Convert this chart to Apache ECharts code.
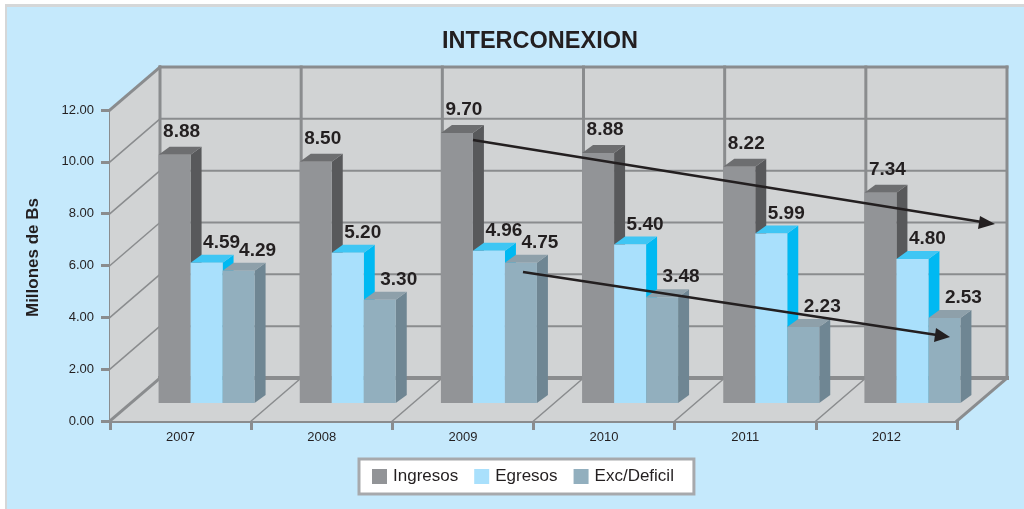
<!DOCTYPE html>
<html>
<head>
<meta charset="utf-8">
<title>Interconexion</title>
<style>
  html, body { margin: 0; padding: 0; background: #fff; }
  #panel {
    position: absolute; left: 5px; top: 4px; width: 1017px; height: 502px;
    background: #c5e9fc; border-left: 2px solid #d5d7d8; border-top: 3px solid #d5d7d8;
  }
  #chart { position: absolute; left: 0; top: 0; width: 1024px; height: 509px; }
</style>
<script src="https://cdn.jsdelivr.net/npm/echarts@6/dist/echarts.min.js"></script>
</head>
<body>
<div id="panel"></div>
<div id="chart"></div>
<script>
const years = ['2007', '2008', '2009', '2010', '2011', '2012']
const yTicks = [0, 2, 4, 6, 8, 10, 12]

// heights read against the axis, they do not follow the printed labels
const ingresos = [9.58, 9.31, 10.42, 9.65, 9.12, 8.11]
const egresos = [5.41, 5.80, 5.87, 6.12, 6.54, 5.56]
const excDeficit = [5.10, 3.98, 5.41, 4.08, 2.93, 3.28]

// numbers printed above the bars
const ingresosLabels = ['8.88', '8.50', '9.70', '8.88', '8.22', '7.34']
const egresosLabels = ['4.59', '5.20', '4.96', '5.40', '5.99', '4.80']
const excDeficitLabels = ['4.29', '3.30', '4.75', '3.48', '2.23', '2.53']

const FONT = '"Liberation Sans", Arial, sans-serif'
const INK = '#231f20'
const LINE = '#8a8c8e'

// depth of the fake 3d box and of the bars
const WALL_DX = 50
const WALL_DY = -43
const BAR_SHIFT_X = 26
const BAR_SHIFT_Y = -18
const BAR_WIDTH = 32
const BAR_DX = 11
const BAR_DY = -8

function poly(points, fill) {
  return { type: 'polygon', shape: { points: points }, style: { fill: fill } }
}

function seg(a, b, width) {
  return {
    type: 'line',
    shape: { x1: a[0], y1: a[1], x2: b[0], y2: b[1] },
    style: { stroke: LINE, lineWidth: width, lineCap: 'square' }
  }
}

function back(p) {
  return [p[0] + WALL_DX, p[1] + WALL_DY]
}

// side wall, back wall, floor and their grid
function renderBox(params, api) {
  const bandW = api.size([1, 0])[0]
  const left = api.coord([0, 0])[0] - bandW / 2
  const bl = [left, api.coord([0, 0])[1]]
  const tl = [left, api.coord([0, 12])[1]]
  const br = [left + bandW * years.length, bl[1]]
  const tr = [br[0], tl[1]]
  const wall = '#d1d3d4'
  const children = [
    poly([bl, tl, back(tl), back(bl)], wall),
    poly([back(bl), back(tl), back(tr), back(br)], wall),
    poly([bl, br, back(br), back(bl)], wall)
  ]
  yTicks.forEach(function (v) {
    if (v === 0 || v === 12) return
    const p = [left, api.coord([0, v])[1]]
    children.push(seg(p, back(p), 1.5))
    children.push(seg(back(p), back([br[0], p[1]]), 2))
  })
  for (let i = 1; i < years.length; i++) {
    const p = [left + bandW * i, bl[1]]
    children.push(seg(p, back(p), 1.5))
    children.push(seg(back(p), back([p[0], tl[1]]), 3))
  }
  children.push(seg(back(bl), back(br), 4))
  children.push(seg(back(bl), back(tl), 3))
  children.push(seg(back(tl), back(tr), 3))
  children.push(seg(back(tr), back(br), 3))
  children.push(seg(bl, back(bl), 3))
  children.push(seg(tl, back(tl), 3))
  children.push(seg(br, back(br), 3))
  return { type: 'group', children: children }
}

function barSeries(name, values, labels, slot, colors, labelDx, labelDy) {
  return {
    name: name,
    type: 'custom',
    z: 3,
    itemStyle: { color: colors.front },
    data: values.map(function (v, i) { return [i, v] }),
    renderItem: function (params, api) {
      const i = api.value(0)
      const top = api.coord([i, api.value(1)])
      const base = api.coord([i, 0])
      const x0 = top[0] + BAR_SHIFT_X + (slot - 2.5) * BAR_WIDTH
      const x1 = x0 + BAR_WIDTH
      const yt = top[1] + BAR_SHIFT_Y
      const yb = base[1] + BAR_SHIFT_Y
      return {
        type: 'group',
        children: [
          poly([[x1, yt], [x1 + BAR_DX, yt + BAR_DY], [x1 + BAR_DX, yb + BAR_DY], [x1, yb]], colors.side),
          poly([[x0, yt], [x0 + BAR_DX, yt + BAR_DY], [x1 + BAR_DX, yt + BAR_DY], [x1, yt]], colors.top),
          poly([[x0, yt], [x1, yt], [x1, yb], [x0, yb]], colors.front),
          {
            type: 'text',
            z2: 10,
            style: {
              x: (x0 + x1) / 2 + labelDx,
              y: yt + labelDy,
              text: labels[i],
              fill: INK,
              font: 'bold 19px ' + FONT,
              align: 'center',
              verticalAlign: 'middle'
            }
          }
        ]
      }
    }
  }
}

function arrow(x1, y1, x2, y2, head) {
  return [
    {
      type: 'line',
      z: 20,
      shape: { x1: x1, y1: y1, x2: x2, y2: y2 },
      style: { stroke: INK, lineWidth: 2.5 }
    },
    {
      type: 'polygon',
      z: 20,
      shape: { points: head },
      style: { fill: INK }
    }
  ]
}

const chart = echarts.init(document.getElementById('chart'), null, { renderer: 'canvas' })

chart.setOption({
  backgroundColor: 'transparent',
  animation: false,
  textStyle: { fontFamily: FONT },
  title: {
    text: 'INTERCONEXION',
    left: 535,
    top: 25,
    textAlign: 'center',
    textStyle: { fontFamily: FONT, fontSize: 23.5, fontWeight: 'bold', color: INK }
  },
  legend: {
    left: 359,
    top: 459,
    backgroundColor: '#fff',
    borderColor: '#a7a9ac',
    borderWidth: 3,
    borderRadius: 0,
    padding: [9, 20, 9, 13],
    itemWidth: 15,
    itemHeight: 15,
    itemGap: 16,
    icon: 'rect',
    data: ['Ingresos', 'Egresos', 'Exc/Deficil'],
    textStyle: { fontFamily: FONT, fontSize: 17, color: INK, padding: [0, 0, 0, 1] }
  },
  grid: { left: 110, right: 67, top: 110, bottom: 88 },
  xAxis: {
    type: 'category',
    data: years,
    axisLine: { lineStyle: { color: LINE, width: 3 } },
    axisTick: { show: true, length: 9, lineStyle: { color: LINE, width: 3 } },
    axisLabel: { fontFamily: FONT, fontSize: 13, color: INK, margin: 10 },
    splitLine: { show: false }
  },
  yAxis: {
    type: 'value',
    min: 0,
    max: 12,
    interval: 2,
    name: 'Millones de Bs',
    nameLocation: 'middle',
    nameGap: 68,
    nameTextStyle: { fontFamily: FONT, fontSize: 17, fontWeight: 'bold', color: INK, padding: [0, 0, 0, 16] },
    axisLine: { show: true, lineStyle: { color: LINE, width: 3 } },
    axisTick: { show: true, length: 9, lineStyle: { color: LINE, width: 3 } },
    axisLabel: { fontFamily: FONT, fontSize: 13, color: INK, margin: 16, formatter: function (v) { return v.toFixed(2) } },
    splitLine: { show: false }
  },
  series: [
    { type: 'custom', z: 1, silent: true, data: [[0, 0]], renderItem: renderBox, tooltip: { show: false } },
    barSeries('Ingresos', ingresos, ingresosLabels, 1, { front: '#929497', top: '#6d6e70', side: '#58595b' }, 7, -23),
    barSeries('Egresos', egresos, egresosLabels, 2, { front: '#a9e0fc', top: '#3fc6f4', side: '#00b9f2' }, 15, -20),
    barSeries('Exc/Deficil', excDeficit, excDeficitLabels, 3, { front: '#92afbe', top: '#8ea0aa', side: '#6f8693' }, 19, -20)
  ],
  graphic: arrow(473, 140, 982, 222, [[995, 224], [980, 216], [978, 229]])
    .concat(arrow(523, 272, 937, 335, [[950, 337], [936, 328], [934, 342]]))
})
</script>
</body>
</html>
